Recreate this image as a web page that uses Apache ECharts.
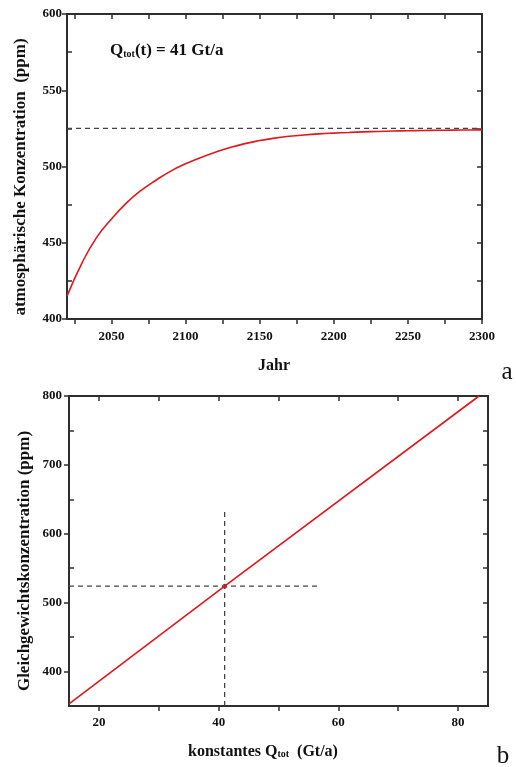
<!DOCTYPE html>
<html>
<head>
<meta charset="utf-8">
<script src="https://cdn.jsdelivr.net/npm/echarts@6/dist/echarts.min.js"></script>
<style>
  html, body { margin: 0; padding: 0; background: #fff; }
  #chart { width: 516px; height: 767px; }
</style>
</head>
<body>
<div id="chart"></div>
<script>
// (a) Konzentration über die Jahre
const jahre = [2020, 2030, 2040, 2050, 2060, 2070, 2080, 2090, 2100, 2110, 2120, 2130, 2140, 2150,
  2160, 2170, 2180, 2190, 2200, 2210, 2220, 2230, 2240, 2250, 2260, 2270, 2280, 2290, 2300];
const konzentration = [415, 436.5, 453.5, 465.6, 476, 484.3, 491, 497, 501.8, 505.8, 509.3, 512.4, 515, 517,
  518.6, 519.8, 520.7, 521.4, 521.9, 522.3, 522.7, 523, 523.25, 523.45, 523.6, 523.75, 523.85, 523.95, 524];
const grenzwertA = 525;
const jahrTicks = [2025, 2050, 2075, 2100, 2125, 2150, 2175, 2200, 2225, 2250, 2275, 2300];
const jahrLabels = [2050, 2100, 2150, 2200, 2250, 2300];

// (b) Gleichgewicht gegen konstantes Q_tot
const qTot = [15, 41, 83.5];
const gleichgewicht = [353, 524, 800];
const qMarke = 41;
const cMarke = 524;
const qHorizontal = [15, 57];
const cVertikal = [350, 637];
const qTicks = [20, 30, 40, 50, 60, 70, 80];
const qLabels = [20, 40, 60, 80];

const FONT = '"Liberation Serif", "Times New Roman", serif';
const AXIS_COLOR = '#2e2e2e';
const RED = '#e3161d';
const DASH = '#444';

const chart = echarts.init(document.getElementById('chart'));

function axis(extra) {
    const base = {
        type: 'value',
        splitLine: { show: false },
        axisLine: { show: true, onZero: false, lineStyle: { color: AXIS_COLOR, width: 2 } },
        axisTick: { show: true, inside: false, length: 5, lineStyle: { color: AXIS_COLOR, width: 1.5 } },
        axisLabel: { show: false, color: '#111', fontFamily: FONT, fontWeight: 'bold', fontSize: 13,
            formatter: v => String(v) }
    };
    const out = Object.assign({}, base, extra);
    out.axisTick = Object.assign({}, base.axisTick, extra.axisTick || {});
    out.axisLabel = Object.assign({}, base.axisLabel, extra.axisLabel || {});
    return out;
}

const option = {
    backgroundColor: '#fff',
    animation: false,
    grid: [
        { left: 67, top: 14, width: 415, height: 305 },
        { left: 69, top: 396, width: 419, height: 310 }
    ],
    xAxis: [
        axis({ gridIndex: 0, position: 'bottom', min: 2020, max: 2300,
            axisTick: { customValues: jahrTicks },
            axisLabel: { show: true, customValues: jahrLabels, margin: 11 } }),
        axis({ gridIndex: 0, position: 'top', min: 2020, max: 2300,
            axisTick: { inside: true, customValues: jahrTicks } }),
        axis({ gridIndex: 1, position: 'bottom', min: 15, max: 85,
            axisTick: { customValues: qTicks },
            axisLabel: { show: true, customValues: qLabels, margin: 10 } }),
        axis({ gridIndex: 1, position: 'top', min: 15, max: 85,
            axisTick: { inside: true, customValues: qTicks } })
    ],
    yAxis: [
        axis({ gridIndex: 0, position: 'left', min: 400, max: 600, interval: 50,
            axisLabel: { show: true, margin: 5 } }),
        axis({ gridIndex: 0, position: 'left', min: 400, max: 600,
            axisLine: { show: false },
            axisTick: { inside: true, customValues: [425, 475, 525, 575] } }),
        axis({ gridIndex: 0, position: 'right', min: 400, max: 600, interval: 25,
            axisTick: { inside: true } }),
        axis({ gridIndex: 1, position: 'left', min: 350, max: 800,
            axisTick: { customValues: [400, 500, 600, 700, 800] },
            axisLabel: { show: true, margin: 7, customValues: [400, 500, 600, 700, 800] } }),
        axis({ gridIndex: 1, position: 'left', min: 350, max: 800,
            axisLine: { show: false },
            axisTick: { inside: true, customValues: [450, 550, 650, 750] } }),
        axis({ gridIndex: 1, position: 'right', min: 350, max: 800,
            axisTick: { inside: true, customValues: [400, 450, 500, 550, 600, 650, 700, 750, 800] } })
    ],
    series: [
        {
            type: 'line', xAxisIndex: 0, yAxisIndex: 0, silent: true,
            data: [[jahre[0], grenzwertA], [jahre[jahre.length - 1], grenzwertA]],
            showSymbol: false,
            lineStyle: { color: DASH, width: 1.2, type: [5, 4] }
        },
        {
            type: 'line', xAxisIndex: 0, yAxisIndex: 0, silent: true,
            data: jahre.map((j, i) => [j, konzentration[i]]),
            smooth: 0.5, showSymbol: false,
            lineStyle: { color: RED, width: 1.6 }
        },
        {
            type: 'line', xAxisIndex: 2, yAxisIndex: 3, silent: true,
            data: qHorizontal.map(q => [q, cMarke]),
            showSymbol: false,
            lineStyle: { color: DASH, width: 1.3, type: [5, 4] }
        },
        {
            type: 'line', xAxisIndex: 2, yAxisIndex: 3, silent: true,
            data: cVertikal.map(c => [qMarke, c]),
            showSymbol: false,
            lineStyle: { color: DASH, width: 1.3, type: [5, 4] }
        },
        {
            type: 'line', xAxisIndex: 2, yAxisIndex: 3, silent: true,
            data: qTot.map((q, i) => [q, gleichgewicht[i]]),
            showSymbol: false,
            lineStyle: { color: RED, width: 1.6 }
        },
        {
            type: 'scatter', xAxisIndex: 2, yAxisIndex: 3, silent: true,
            data: [[qMarke, cMarke]],
            symbolSize: 5,
            itemStyle: { color: RED }
        }
    ],
    graphic: [
        {
            type: 'text', x: 21, y: 177, rotation: Math.PI / 2,
            style: { text: 'atmosphärische Konzentration  (ppm)', font: 'bold 17px ' + FONT,
                fill: '#111', align: 'center', verticalAlign: 'middle' }
        },
        {
            type: 'text', x: 274, y: 366,
            style: { text: 'Jahr', font: 'bold 16px ' + FONT, fill: '#111',
                align: 'center', verticalAlign: 'middle' }
        },
        {
            type: 'text', x: 110, y: 48,
            style: {
                text: '{m|Q}{s|tot}{m|(t) = 41 Gt/a}',
                align: 'left', verticalAlign: 'middle', fill: '#111',
                rich: {
                    m: { fontFamily: FONT, fontWeight: 'bold', fontSize: 17, lineHeight: 22, verticalAlign: 'bottom' },
                    s: { fontFamily: FONT, fontWeight: 'bold', fontSize: 10, lineHeight: 10, verticalAlign: 'bottom' }
                }
            }
        },
        {
            type: 'text', x: 507, y: 372,
            style: { text: 'a', font: '25px ' + FONT, fill: '#111', align: 'center', verticalAlign: 'middle' }
        },
        {
            type: 'text', x: 25, y: 561, rotation: Math.PI / 2,
            style: { text: 'Gleichgewichtskonzentration (ppm)', font: 'bold 17px ' + FONT,
                fill: '#111', align: 'center', verticalAlign: 'middle' }
        },
        {
            type: 'text', x: 263, y: 749,
            style: {
                text: '{m|konstantes Q}{s|tot}{m|  (Gt/a)}',
                align: 'center', verticalAlign: 'middle', fill: '#111',
                rich: {
                    m: { fontFamily: FONT, fontWeight: 'bold', fontSize: 16, lineHeight: 21, verticalAlign: 'bottom' },
                    s: { fontFamily: FONT, fontWeight: 'bold', fontSize: 10, lineHeight: 10, verticalAlign: 'bottom' }
                }
            }
        },
        {
            type: 'text', x: 503, y: 756,
            style: { text: 'b', font: '25px ' + FONT, fill: '#111', align: 'center', verticalAlign: 'middle' }
        }
    ]
};

chart.setOption(option);
</script>
</body>
</html>
